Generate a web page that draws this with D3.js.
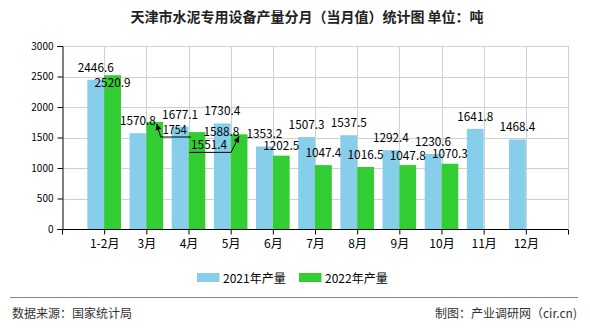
<!DOCTYPE html>
<html>
<head>
<meta charset="utf-8">
<script src="https://cdn.jsdelivr.net/npm/d3@7/dist/d3.min.js"></script>
<style>
  html, body { margin: 0; padding: 0; background: #fff; }
  svg { display: block; }
  text { font-family: "Noto Sans CJK SC", "Liberation Sans", sans-serif; }
</style>
</head>
<body>
<svg id="chart" width="590" height="330"></svg>
<script>
// ---------- data ----------
const categories = ["1-2月", "3月", "4月", "5月", "6月", "7月", "8月", "9月", "10月", "11月", "12月"];
const values2021 = [2446.6, 1570.8, 1677.1, 1730.4, 1353.2, 1507.3, 1537.5, 1292.4, 1230.6, 1641.8, 1468.4];
const values2022 = [2520.9, 1754, 1588.8, 1551.4, 1202.5, 1047.4, 1016.5, 1047.8, 1070.3, null, null];
const seriesNames = ["2021年产量", "2022年产量"];
const yTicks = [0, 500, 1000, 1500, 2000, 2500, 3000];
const titleText = "天津市水泥专用设备产量分月（当月值）统计图 单位：吨";
const sourceText = "数据来源：国家统计局";
const creditText = "制图：产业调研网（cir.cn)";

// ---------- styles ----------
const colors = ["#87CEEB", "#32CD32"];
const svg = d3.select("#chart");
const plot = { left: 62, right: 568, top: 46, bottom: 229 };

const x = d3.scalePoint().domain(categories).range([plot.left, plot.right]).padding(1);
const y = d3.scaleLinear().domain([0, 3000]).range([plot.bottom, plot.top]);
const barW = 16.8;

// title
svg.append("text").attr("x", 307).attr("y", 22).attr("text-anchor", "middle")
  .attr("font-size", 14).attr("font-weight", "bold").attr("fill", "#222").text(titleText);

// grid
const grid = svg.append("g").attr("stroke", "#d0d0d0").attr("stroke-width", 1);
yTicks.filter(t => t > 0).forEach(t => {
  grid.append("line").attr("x1", plot.left).attr("x2", plot.right)
    .attr("y1", Math.round(y(t)) + 0.5).attr("y2", Math.round(y(t)) + 0.5);
});
categories.forEach(c => {
  grid.append("line").attr("x1", Math.round(x(c)) + 0.5).attr("x2", Math.round(x(c)) + 0.5)
    .attr("y1", plot.top).attr("y2", plot.bottom);
});
grid.append("line").attr("x1", plot.right + 0.5).attr("x2", plot.right + 0.5)
  .attr("y1", plot.top).attr("y2", plot.bottom);

// bars
const series = [values2021, values2022];
series.forEach((vals, s) => {
  svg.append("g").selectAll("rect")
    .data(categories.map((c, i) => ({ c, v: vals[i] })).filter(d => d.v != null))
    .join("rect")
    .attr("x", d => s === 0 ? x(d.c) - barW : x(d.c))
    .attr("width", barW)
    .attr("y", d => y(d.v))
    .attr("height", d => y(0) - y(d.v))
    .attr("fill", colors[s]);
});

// axes
const yAxis = d3.axisLeft(y).tickValues(yTicks).tickFormat(d3.format("d")).tickSize(5).tickPadding(4);
const gy = svg.append("g").attr("transform", `translate(${plot.left + 0.5},0)`).call(yAxis);
gy.select(".domain").attr("stroke", "#000");
gy.selectAll(".tick line").attr("stroke", "#000");
gy.selectAll(".tick text").attr("font-size", 10).attr("fill", "#000")
  .attr("font-family", "Liberation Sans, sans-serif");

const xAxis = d3.axisBottom(x).tickSize(5).tickPadding(5);
const gx = svg.append("g").attr("transform", `translate(0,${plot.bottom + 0.5})`).call(xAxis);
gx.select(".domain").attr("d", `M${plot.left},0H${plot.right}`).attr("stroke", "#000");
gx.selectAll(".tick line").attr("stroke", "#000");
gx.selectAll(".tick text").attr("font-size", 12).attr("fill", "#000");
[plot.left, plot.right].forEach(px => {
  gx.append("line").attr("x1", px + 0.5).attr("x2", px + 0.5).attr("y1", 0).attr("y2", 5).attr("stroke", "#000");
});

// value labels (layout adjustments, not data)
const labelAdjust = {
  "1-0": { dx: 0, dy: 20 },
  "1-1": { dx: 20, dy: 20, leader: true },
  "1-2": { dx: 24.5, dy: 12 },
  "1-3": { dx: -30, dy: 23, leader: true },
  "1-4": { dx: 0, dy: 2 },
  "1-7": { dx: 0, dy: 3 },
  "1-8": { dx: 0, dy: 2 }
};
const lblG = svg.append("g");
series.forEach((vals, s) => {
  vals.forEach((v, i) => {
    if (v == null) return;
    const cx = s === 0 ? x(categories[i]) - barW / 2 : x(categories[i]) + barW / 2;
    const top = y(v);
    const adj = labelAdjust[`${s}-${i}`] || { dx: 0, dy: 0 };
    const str = String(v);
    const w = str.length * 6;
    const lx = cx + adj.dx, ly = top - 8 + adj.dy;
    lblG.append("text").attr("x", lx).attr("y", ly).attr("text-anchor", "middle")
      .attr("font-size", 12).attr("font-family", "DejaVu Sans Mono, monospace")
      .attr("textLength", w).attr("lengthAdjust", "spacingAndGlyphs")
      .attr("fill", "#000").text(str);
    if (adj.leader) {
      const uy = ly + 3;
      const left = lx - w / 2 - 2, right = lx + w / 2 + 4;
      const near = cx < left ? left : right;
      const far = cx < left ? right : left;
      const tipX = cx + (cx < left ? 2 : 0), tipY = top + 2;
      lblG.append("path")
        .attr("d", `M${far},${uy}H${near}L${tipX},${tipY}`)
        .attr("fill", "none").attr("stroke", "#000").attr("stroke-width", 1);
      const ang = Math.atan2(tipY - uy, tipX - near);
      const L = 6, W = 3;
      const bx = tipX - L * Math.cos(ang), by = tipY - L * Math.sin(ang);
      const px = -Math.sin(ang) * W, py = Math.cos(ang) * W;
      lblG.append("path")
        .attr("d", `M${tipX},${tipY}L${bx + px},${by + py}L${bx - px},${by - py}Z`)
        .attr("fill", "#000");
    }
  });
});

// legend
const legend = svg.append("g");
const legendX = [197, 299];
seriesNames.forEach((n, s) => {
  legend.append("rect").attr("x", legendX[s]).attr("y", 273).attr("width", 22.5).attr("height", 9)
    .attr("fill", colors[s]);
  legend.append("text").attr("x", legendX[s] + 26).attr("y", 282.5)
    .attr("font-size", 12).attr("fill", "#000").text(n);
});

// footer
svg.append("line").attr("x1", 10).attr("x2", 578).attr("y1", 297.5).attr("y2", 297.5)
  .attr("stroke", "#888").attr("stroke-width", 1.2);
svg.append("text").attr("x", 12).attr("y", 318).attr("font-size", 12).attr("fill", "#333").text(sourceText);
svg.append("text").attr("x", 577).attr("y", 318).attr("text-anchor", "end")
  .attr("font-size", 12).attr("fill", "#333").text(creditText);
</script>
</body>
</html>
